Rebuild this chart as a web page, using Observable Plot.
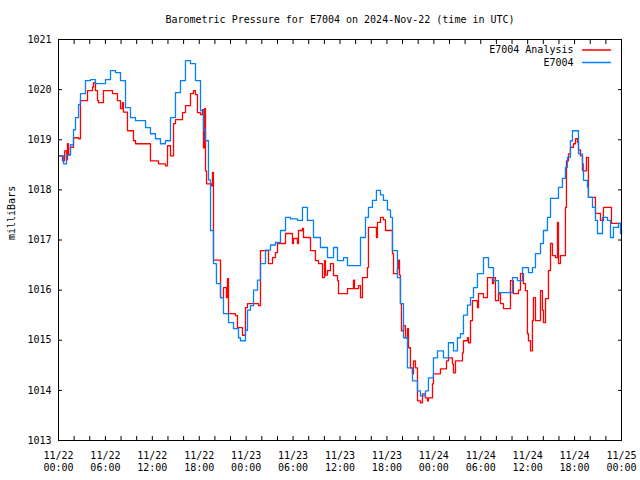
<!DOCTYPE html>
<html><head><meta charset="utf-8">
<script src="https://cdn.jsdelivr.net/npm/d3@7"></script>
<script src="https://cdn.jsdelivr.net/npm/@observablehq/plot@0.6"></script>
<style>html,body{margin:0;padding:0;background:#fff} svg{display:block}</style>
</head><body><div id="chart"></div>
<script>
const titleText = "Barometric Pressure for E7004 on 2024-Nov-22 (time in UTC)";
const yLabel = "milliBars";
const startTime = Date.UTC(2024, 10, 22, 0, 0);
const spanHours = 72;
const yDomain = [1013, 1021];
const yTicks = [1013, 1014, 1015, 1016, 1017, 1018, 1019, 1020, 1021];
const seriesNames = ["E7004 Analysis", "E7004"];
const seriesColors = ["#ff0000", "#0080ff"];

// [hours since 2024-11-22 00:00 UTC, millibars]
const analysisReadings = [
[0,1018.68],[0.51,1018.58],[0.77,1018.78],[1.02,1018.6],[1.15,1018.92],[1.28,1018.7],[1.53,1018.85],[1.92,1019.04],
[2.56,1019.02],[2.81,1019.78],[3.71,1019.98],[4.35,1020.05],[4.48,1020.14],[4.73,1019.98],[4.99,1019.78],[5.12,1019.74],
[5.75,1019.98],[6.91,1019.92],[7.54,1019.78],[7.93,1019.62],[8.18,1019.74],[8.31,1019.55],[8.82,1019.18],[9.59,1018.98],
[9.85,1018.92],[11.76,1018.58],[12.79,1018.52],[13.68,1018.48],[13.94,1018.88],[14.32,1018.68],[14.71,1019.32],[14.96,1019.4],
[15.86,1019.54],[16.24,1019.68],[16.88,1019.92],[17.26,1019.98],[17.52,1019.9],[17.77,1019.54],[18.16,1019.5],[18.41,1019.6],
[18.54,1018.84],[18.67,1019.62],[18.8,1018.38],[18.93,1018.12],[19.57,1018.08],[19.69,1018.35],[19.82,1016.6],[20.72,1015.85],
[21.1,1016.05],[21.48,1015.85],[21.61,1016.23],[21.74,1015.53],[22.63,1015.49],[22.89,1015.25],[23.53,1015.1],[23.91,1015.65],
[24.17,1015.73],[25.58,1015.69],[25.83,1016.79],[26.73,1016.79],[26.85,1016.53],[27.37,1016.65],[27.75,1016.75],[28.01,1016.93],
[29.03,1017.13],[29.92,1016.93],[30.05,1017.03],[30.56,1016.93],[30.69,1017.19],[31.2,1017.23],[31.33,1017.05],[32.23,1016.79],
[32.86,1016.59],[33.25,1016.53],[33.76,1016.25],[34.02,1016.59],[34.14,1016.3],[34.4,1016.39],[34.78,1016.53],[35.17,1016.29],
[35.68,1016.19],[35.81,1015.93],[36.96,1016.03],[37.72,1016.2],[37.85,1016.03],[38.36,1016.09],[38.62,1015.85],[38.87,1016.25],
[39.51,1016.45],[39.64,1017.25],[40.66,1017.05],[40.79,1017.35],[41.18,1017.45],[41.56,1017.4],[41.82,1017.19],[42.71,1016.73],
[42.84,1016.33],[43.35,1016.43],[43.48,1016.6],[43.61,1016.3],[43.73,1015.73],[43.86,1015.19],[44.12,1015.29],[44.37,1015.05],
[44.63,1015.23],[44.76,1014.85],[45.01,1014.45],[45.27,1014.33],[45.4,1014.59],[45.65,1014.45],[45.91,1013.79],[46.29,1013.75],
[46.55,1013.93],[46.93,1013.85],[47.19,1013.79],[47.31,1013.85],[47.83,1014.13],[47.95,1014.33],[48.85,1014.43],[49.62,1014.59],
[49.87,1014.65],[50.38,1014.53],[50.51,1014.35],[50.77,1014.59],[51.66,1014.75],[51.79,1014.99],[52.3,1015.05],[52.43,1014.95],
[52.69,1015.39],[52.94,1015.79],[53.58,1015.65],[53.71,1015.93],[54.35,1015.85],[54.86,1016.25],[55.5,1016.13],[55.63,1016.25],
[55.88,1015.79],[56.27,1015.93],[56.52,1015.73],[56.91,1015.63],[57.8,1016.19],[58.18,1015.93],[58.82,1016.0],[59.08,1016.33],
[59.46,1016.13],[59.72,1015.99],[59.97,1015.13],[60.1,1014.99],[60.36,1014.79],[60.61,1015.39],[60.74,1015.85],[61.0,1015.39],
[61.64,1015.99],[61.89,1015.6],[62.02,1015.35],[62.28,1015.83],[62.66,1016.39],[62.92,1016.93],[63.17,1016.69],[63.55,1016.65],
[63.81,1017.35],[63.94,1016.53],[64.19,1016.69],[64.83,1017.65],[64.96,1018.58],[65.22,1018.72],[65.47,1018.85],[65.86,1018.92],
[66.11,1019.02],[66.37,1018.95],[66.5,1018.8],[66.75,1018.68],[67.01,1018.38],[67.52,1018.65],[67.77,1017.85],[68.67,1017.53],
[69.31,1017.39],[69.69,1017.65],[70.72,1017.33],[72,1017.3]
];

const stationReadings = [
[0,1018.68],[0.26,1018.68],[0.64,1018.52],[1.02,1018.7],[1.53,1018.9],[1.92,1019.2],[2.17,1019.44],[2.56,1019.7],
[2.81,1019.92],[3.45,1020.18],[4.09,1020.2],[4.73,1020.12],[6.01,1020.2],[6.65,1020.38],[7.29,1020.34],[7.93,1020.18],
[8.57,1019.64],[9.21,1019.44],[9.85,1019.38],[11.13,1019.24],[11.76,1019.12],[12.4,1019.02],[13.04,1018.92],[13.68,1018.98],
[14.32,1019.44],[14.96,1019.94],[15.6,1020.18],[16.24,1020.58],[16.88,1020.52],[17.52,1020.18],[18.16,1019.58],[18.54,1019.2],
[18.8,1018.98],[19.18,1018.2],[19.44,1017.19],[19.82,1016.53],[20.2,1016.13],[20.72,1015.85],[21.1,1015.53],[21.74,1015.35],
[22.38,1015.23],[23.02,1015.05],[23.27,1014.99],[23.91,1015.2],[24.17,1015.6],[24.55,1015.69],[24.94,1016.0],[25.45,1016.2],
[25.83,1016.53],[26.47,1016.8],[27.11,1016.9],[27.75,1016.95],[28.39,1017.19],[29.03,1017.45],[29.67,1017.42],[30.56,1017.39],
[31.2,1017.65],[31.84,1017.39],[32.61,1017.05],[33.5,1016.85],[34.4,1016.65],[35.17,1016.85],[35.68,1016.59],[36.45,1016.65],
[36.96,1016.49],[38.62,1017.05],[39.26,1017.45],[39.64,1017.65],[40.15,1017.79],[40.66,1017.99],[41.18,1017.9],[41.56,1017.79],
[42.07,1017.6],[42.46,1017.45],[42.71,1016.79],[43.35,1016.25],[43.73,1015.73],[44.12,1015.05],[44.63,1014.45],[45.27,1014.19],
[45.91,1013.99],[46.29,1013.89],[46.93,1013.99],[47.31,1014.25],[47.95,1014.65],[48.47,1014.79],[49.23,1014.65],[49.87,1014.95],
[50.51,1014.79],[51.02,1015.05],[51.41,1015.13],[51.79,1015.5],[52.3,1015.7],[52.69,1015.85],[53.07,1016.05],[53.58,1016.33],
[54.35,1016.65],[54.99,1016.45],[55.63,1016.19],[56.27,1015.95],[58.06,1016.25],[58.7,1016.19],[59.34,1016.45],[60.1,1016.35],
[60.61,1016.45],[61.0,1016.73],[61.64,1016.93],[62.02,1017.19],[62.53,1017.45],[62.92,1017.83],[63.94,1018.05],[64.45,1018.23],
[64.83,1018.45],[65.09,1018.65],[65.47,1018.98],[65.73,1019.18],[66.5,1018.72],[67.01,1018.52],[67.14,1018.19],[67.65,1018.05],
[67.77,1017.85],[68.29,1017.65],[68.67,1017.39],[68.93,1017.13],[69.57,1017.45],[70.2,1017.39],[70.59,1017.05],[70.97,1017.25],
[71.61,1017.33],[71.87,1017.13],[72,1017.2]
];

const toRows = (readings) => readings.map(([h, v]) => ({time: new Date(startTime + h * 3600e3), pressure: v}));
const analysisRows = toRows(analysisReadings);
const stationRows = toRows(stationReadings);
const xDomain = [new Date(startTime), new Date(startTime + spanHours * 3600e3)];

const lineShape = {draw(context, l) { context.moveTo(0, 0); context.lineTo(0, -l); }};
const FONT = "'DejaVu Sans Mono', monospace";

const chart = Plot.plot({
  width: 640,
  height: 480,
  marginLeft: 58,
  marginRight: 19,
  marginTop: 39,
  marginBottom: 40,
  style: {fontFamily: FONT, fontSize: "10px", color: "#000", background: "#fff", overflow: "visible"},
  x: {type: "utc", domain: xDomain},
  y: {domain: yDomain},
  marks: [
    Plot.line(analysisRows, {x: "time", y: "pressure", stroke: seriesColors[0], strokeWidth: 1.3, curve: "step-after"}),
    Plot.line(stationRows, {x: "time", y: "pressure", stroke: seriesColors[1], strokeWidth: 1.3, curve: "step-after"}),
    Plot.frame({stroke: "#000", strokeWidth: 1}),
    // inward ticks
    Plot.axisX({anchor: "bottom", ticks: d3.utcHour.every(2), tickSize: 4, dy: -4, tickFormat: () => "", label: null}),
    Plot.axisX({anchor: "top", ticks: d3.utcHour.every(2), tickSize: 4, dy: 4, tickFormat: () => "", label: null}),
    Plot.axisY({anchor: "left", ticks: yTicks, tickSize: 4, dx: 4, tickFormat: () => "", label: null}),
    Plot.axisY({anchor: "right", ticks: yTicks, tickSize: 4, dx: -4, tickFormat: () => "", label: null}),
    // labels
    Plot.axisX({anchor: "bottom", ticks: d3.utcHour.every(6), tickSize: 0, tickPadding: 10, lineHeight: 1.2,
      tickFormat: d3.utcFormat("%m/%d\n%H:%M"), label: null, fontSize: 10}),
    Plot.axisY({anchor: "left", ticks: yTicks, tickSize: 0, tickPadding: 7, tickFormat: d => String(d), label: null, fontSize: 10}),
    Plot.text([titleText], {frameAnchor: "top", lineAnchor: "middle", dy: -20, fontSize: 10, fill: "#000"}),
    Plot.text([yLabel], {frameAnchor: "left", lineAnchor: "middle", dx: -47, rotate: -90, fontSize: 10, fill: "#000"}),
    // legend
    Plot.text([seriesNames[0]], {frameAnchor: "top-right", lineAnchor: "middle", dx: -48, dy: 10.5, textAnchor: "end", fontSize: 10, fill: "#000"}),
    Plot.text([seriesNames[1]], {frameAnchor: "top-right", lineAnchor: "middle", dx: -48, dy: 23, textAnchor: "end", fontSize: 10, fill: "#000"}),
    Plot.vector([seriesNames[0]], {frameAnchor: "top-right", dx: -11, dy: 10.5, rotate: 90, length: 28, anchor: "end", shape: lineShape, stroke: seriesColors[0], strokeWidth: 1.3}),
    Plot.vector([seriesNames[1]], {frameAnchor: "top-right", dx: -11, dy: 23, rotate: 90, length: 28, anchor: "end", shape: lineShape, stroke: seriesColors[1], strokeWidth: 1.3})
  ]
});
document.getElementById("chart").appendChild(chart);
</script>
</body></html>
